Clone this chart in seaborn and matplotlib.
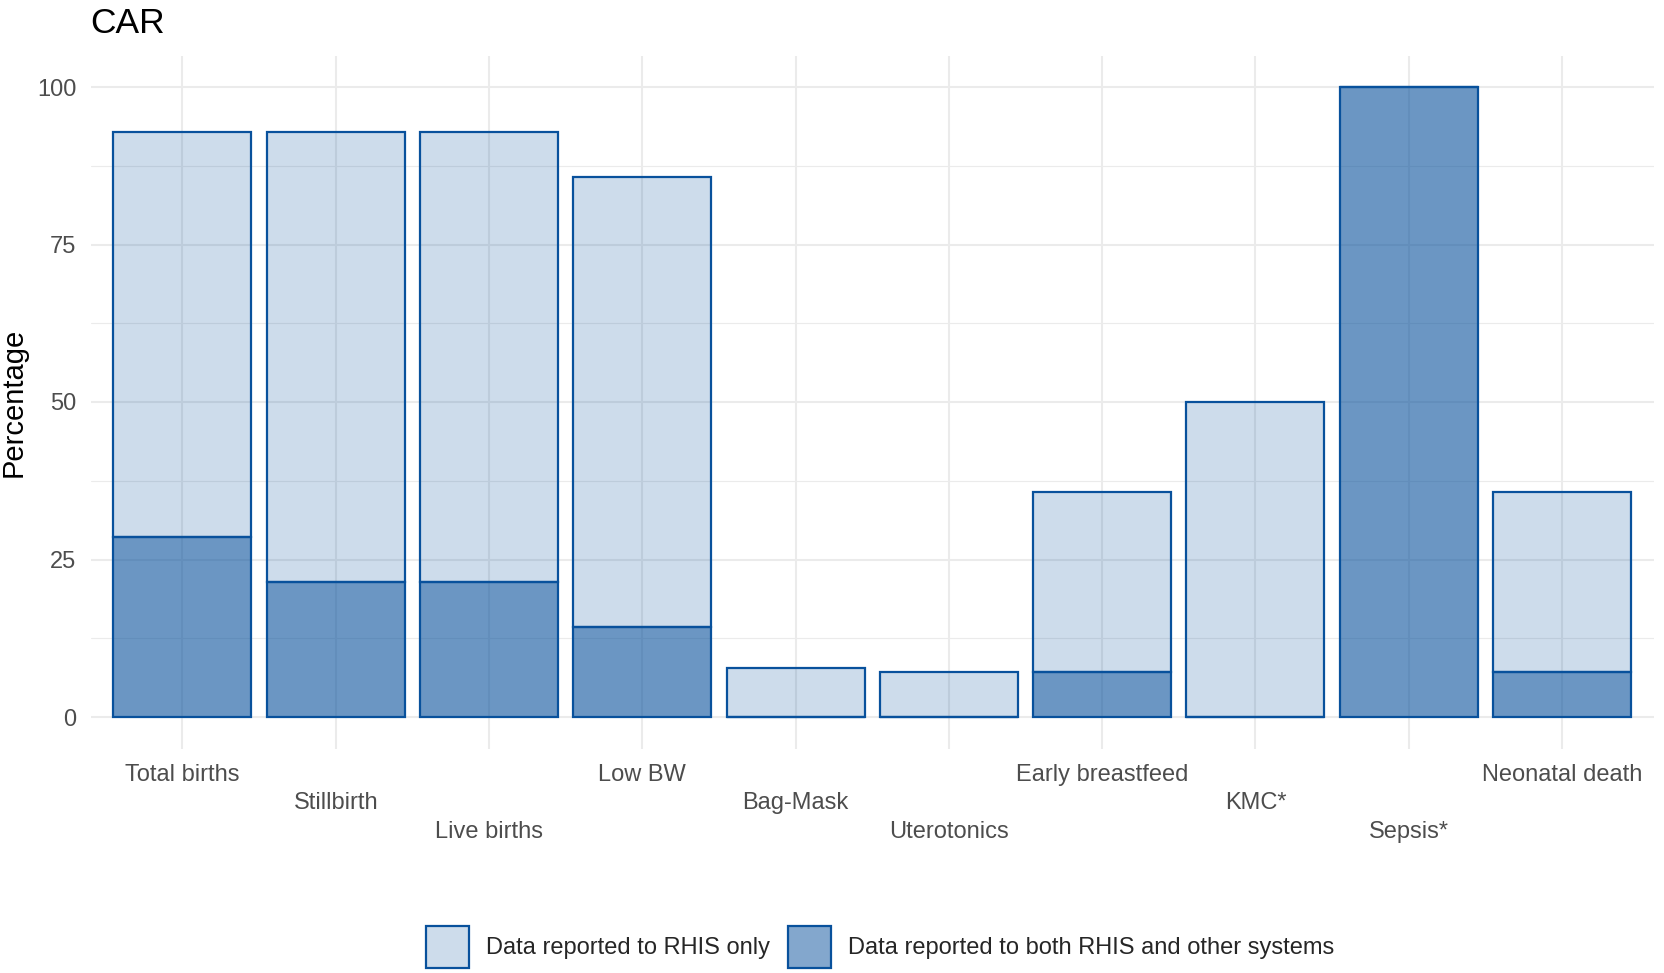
import matplotlib
matplotlib.use("Agg")
import matplotlib.pyplot as plt
import seaborn as sns
import pandas as pd
from matplotlib.patches import Patch
from matplotlib.colors import to_rgba

# Share of facilities reporting each indicator, by reporting channel (%)
categories = ["Total births", "Stillbirth", "Live births", "Low BW", "Bag-Mask",
              "Uterotonics", "Early breastfeed", "KMC*", "Sepsis*", "Neonatal death"]
both_pct = [28.6, 21.4, 21.4, 14.3, 0.0, 0.0, 7.1, 0.0, 100.0, 7.1]
rhis_only_pct = [64.3, 71.5, 71.5, 71.4, 7.7, 7.1, 28.6, 50.0, 0.0, 28.6]
series_labels = ["Data reported to RHIS only",
                 "Data reported to both RHIS and other systems"]
y_ticks = [0, 25, 50, 75, 100]
y_minor = [12.5, 37.5, 62.5, 87.5]
title = "CAR"

df = pd.DataFrame({"indicator": categories, "both": both_pct,
                   "rhis_only": rhis_only_pct})

sns.set_theme(style="whitegrid")
plt.rcParams["font.family"] = ["Liberation Sans", "DejaVu Sans"]

BLUE = "#08519C"
GRID = "#ebebeb"
W, H = 1664, 973
fig = plt.figure(figsize=(W / 100, H / 100), dpi=100)
left, right, top, bottom = 90.5, 1654, 55.5, 748.5
ax = fig.add_axes([left / W, 1 - bottom / H, (right - left) / W, (bottom - top) / H])

# dark segment at the base, light segment stacked above it
sns.barplot(data=df, x="indicator", y="both", order=categories, width=0.9,
            color=BLUE, errorbar=None, ax=ax)
sns.barplot(data=df, x="indicator", y="rhis_only", order=categories, width=0.9,
            color=BLUE, errorbar=None, ax=ax, bottom=df["both"].to_numpy())

n = len(categories)
for i, p in enumerate(ax.patches):
    alpha = 0.6 if i < n else 0.2
    p.set_facecolor(to_rgba(BLUE, alpha))
    p.set_edgecolor(BLUE)
    p.set_linewidth(1.6)
    p.set_zorder(3)

ax.set_xlim(-0.6, n - 0.4)
ax.set_ylim(-5, 105)
ax.set_yticks(y_ticks)
ax.set_yticks(y_minor, minor=True)
ax.grid(which="major", axis="both", color=GRID, linewidth=1.5, zorder=0)
ax.grid(which="minor", axis="y", color=GRID, linewidth=0.8, zorder=0)
ax.set_axisbelow(True)
for s in ax.spines.values():
    s.set_visible(False)

# staggered category labels over three rows
staggered = ["\n" * (i % 3) + c for i, c in enumerate(categories)]
ax.set_xticks(range(n))
ax.set_xticklabels(staggered, linespacing=1.38)
ax.tick_params(axis="both", which="both", length=0, colors="#4d4d4d",
               labelsize=17)
ax.tick_params(axis="x", pad=11)
ax.tick_params(axis="y", pad=10)
ax.set_xlabel("")
ax.set_ylabel("Percentage", fontsize=21, color="black", labelpad=7)

fig.text(left / W, 1 - 33 / H, title, fontsize=25.5, color="black",
         ha="left", va="baseline")

handles = [Patch(facecolor=to_rgba(BLUE, 0.2), edgecolor=BLUE, linewidth=1.6),
           Patch(facecolor=to_rgba(BLUE, 0.5), edgecolor=BLUE, linewidth=1.6)]
fig.legend(handles, series_labels, loc="center", ncol=2, frameon=False,
           bbox_to_anchor=(880 / W, 1 - 947 / H), fontsize=17,
           handlelength=1.85, handleheight=2.4, handletextpad=0.7,
           columnspacing=0.75, borderpad=0)

fig.savefig("out.png", dpi=100)
